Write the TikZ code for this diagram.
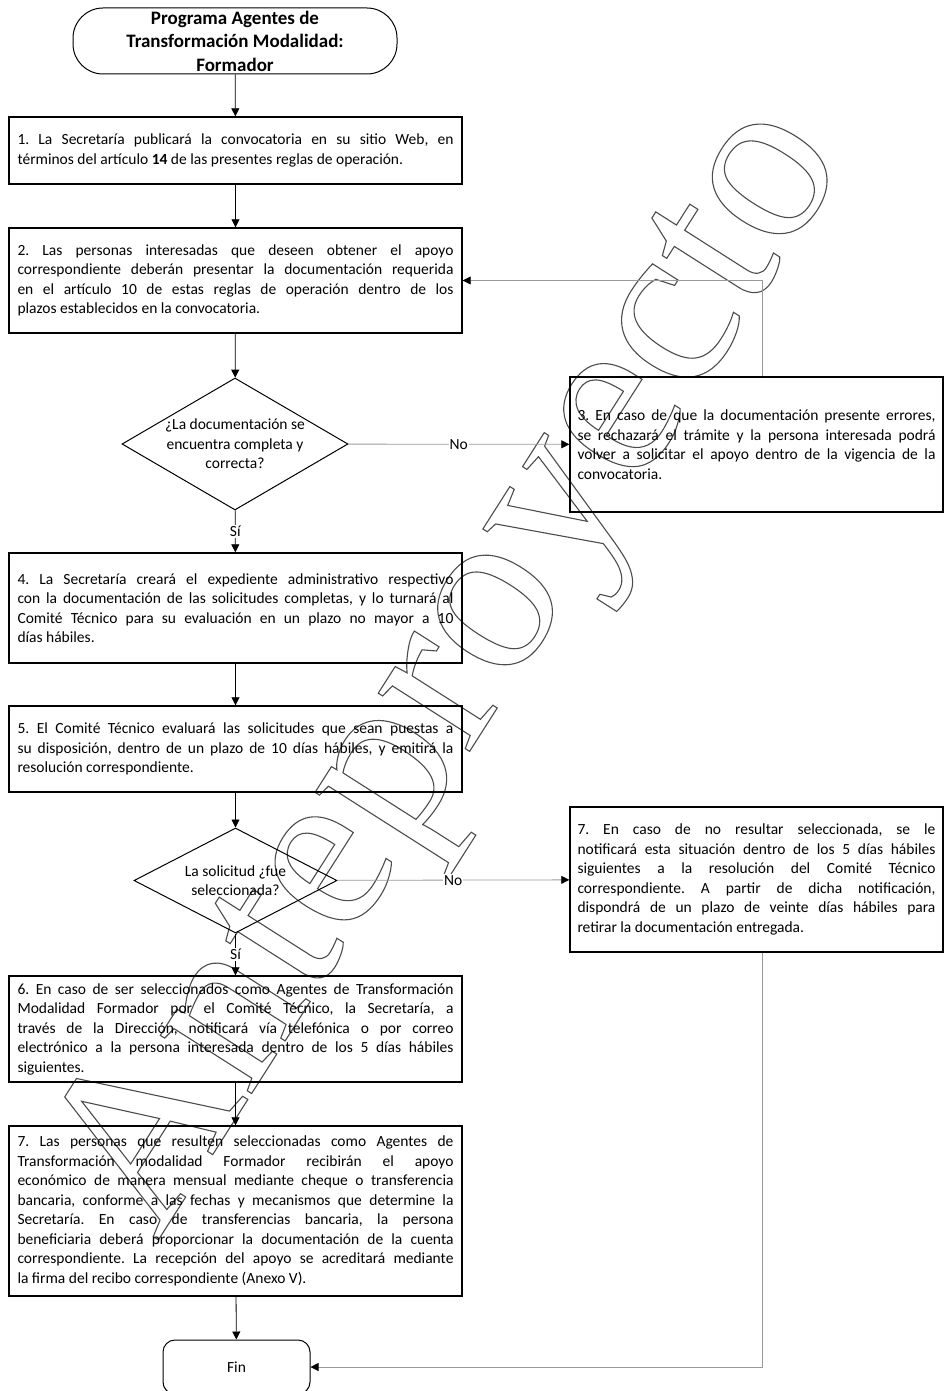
\documentclass[tikz,border=0pt]{standalone}
\usepackage{fontspec}
\setmainfont{Carlito}
\newfontfamily\marcafont{Liberation Serif}
\usetikzlibrary{shapes, arrows.meta, positioning}
\frenchspacing

\tikzset{
    caja/.style={draw, line width=1.4pt, text width=436pt, align=justify, inner sep=0pt,
        minimum width=453pt, font=\fontsize{15.5}{19.5}\selectfont},
    cajader/.style={caja, text width=358pt, minimum width=373pt},
    terminal/.style={draw, line width=1pt, rounded corners=30pt, align=center, inner sep=0pt},
    decision/.style={draw, diamond, line width=1pt, inner sep=0pt},
    qtext/.style={align=center, font=\fontsize{15.5}{19.5}\selectfont},
    flecha/.style={-{Triangle[length=8pt,width=8pt,color=black]}, line width=0.8pt},
    gris/.style={draw=black!40, line width=0.8pt},
    etiq/.style={fill=white, inner sep=1pt, font=\fontsize{15.5}{19.5}\selectfont},
    marca/.style={text=black!70, inner sep=0pt, font=\marcafont\fontsize{236}{300}\selectfont}
}

\begin{document}
\begin{tikzpicture}[x=1pt, y=-1pt]
    \useasboundingbox (0,0) rectangle (945,1391);

    \node[marca, rotate=57.5] (marca) at (458,672)
        {\special{pdf:code 1 Tr 1.1 w}Anteproyecto\special{pdf:code 0 Tr}};

    \node[terminal, minimum width=324pt, minimum height=66pt,
        font=\bfseries\fontsize{19}{23.5}\selectfont] (inicio) at (235,41)
        {Programa Agentes de\\Transformación Modalidad:\\Formador};
    \node[caja, minimum height=67pt] (p1) at (235.5,150.5)
        {1. La Secretaría publicará la convocatoria en su sitio Web, en \linebreak
        términos del artículo \textbf{14} de las presentes reglas de operación.};
    \node[caja, minimum height=105pt] (p2) at (235.5,280.5)
        {2. Las personas interesadas que deseen obtener el apoyo \linebreak
        correspondiente deberán presentar la documentación requerida \linebreak
        en el artículo 10 de estas reglas de operación dentro de los \linebreak
        plazos establecidos en la convocatoria.};
    \node[decision, minimum width=226pt, minimum height=132pt,
        label={[qtext]center:¿La documentación se\\encuentra completa y\\correcta?}] (q1) at (235,444) {};
    \node[cajader, minimum height=135pt] (p3) at (756.5,444.5)
        {3. En caso de que la documentación presente errores, \linebreak
        se rechazará el trámite y la persona interesada podrá \linebreak
        volver a solicitar el apoyo dentro de la vigencia de la \linebreak
        convocatoria.};
    \node[caja, minimum height=110pt] (p4) at (235.5,608)
        {4. La Secretaría creará el expediente administrativo respectivo \linebreak
        con la documentación de las solicitudes completas, y lo turnará al \linebreak
        Comité Técnico para su evaluación en un plazo no mayor a 10 \linebreak
        días hábiles.};
    \node[caja, minimum height=86pt] (p5) at (235.5,749)
        {5. El Comité Técnico evaluará las solicitudes que sean puestas a \linebreak
        su disposición, dentro de un plazo de 10 días hábiles, y emitirá la \linebreak
        resolución correspondiente.};
    \node[decision, minimum width=203pt, minimum height=105pt,
        label={[qtext]center:La solicitud ¿fue\\seleccionada?}] (q2) at (235.5,880.5) {};
    \node[cajader, minimum height=145pt] (p7no) at (756.5,879.5)
        {7. En caso de no resultar seleccionada, se le \linebreak
        notificará esta situación dentro de los 5 días hábiles \linebreak
        siguientes a la resolución del Comité Técnico \linebreak
        correspondiente. A partir de dicha notificación, \linebreak
        dispondrá de un plazo de veinte días hábiles para \linebreak
        retirar la documentación entregada.};
    \node[caja, minimum height=106pt] (p6) at (235.5,1029)
        {6. En caso de ser seleccionados como Agentes de Transformación \linebreak
        Modalidad Formador por el Comité Técnico, la Secretaría, a \linebreak
        través de la Dirección, notificará vía telefónica o por correo \linebreak
        electrónico a la persona interesada dentro de los 5 días hábiles \linebreak
        siguientes.};
    \node[caja, minimum height=170pt] (p7) at (235.5,1211)
        {7. Las personas que resulten seleccionadas como Agentes de \linebreak
        Transformación modalidad Formador recibirán el apoyo \linebreak
        económico de manera mensual mediante cheque o transferencia \linebreak
        bancaria, conforme a las fechas y mecanismos que determine la \linebreak
        Secretaría. En caso de transferencias bancaria, la persona \linebreak
        beneficiaria deberá proporcionar la documentación de la cuenta \linebreak
        correspondiente. La recepción del apoyo se acreditará mediante \linebreak
        la firma del recibo correspondiente (Anexo V).};
    \node[terminal, rounded corners=12pt, minimum width=147pt, minimum height=54pt,
        font=\fontsize{15.5}{19.5}\selectfont] (fin) at (236.5,1367) {Fin};

    \draw[flecha]
    (inicio) edge (p1)
    (p1) edge (p2)
    (p2) edge (q1)
    (q1) edge node[etiq] {Sí} (p4)
    (p4) edge (p5)
    (p5) edge (q2)
    (q2) edge node[etiq] {Sí} (p6)
    (p6) edge (p7)
    (p7) edge (fin);

    \draw[flecha, gris] (q1) -- node[etiq] {No} (p3);
    \draw[flecha, gris] (q2) -- node[etiq] {No} (p7no);
    \draw[flecha, gris] ([xshift=5.5pt]p3.north) |- (p2);
    \draw[flecha, gris] ([xshift=5.5pt]p7no.south) |- (fin);
\end{tikzpicture}
\end{document}
